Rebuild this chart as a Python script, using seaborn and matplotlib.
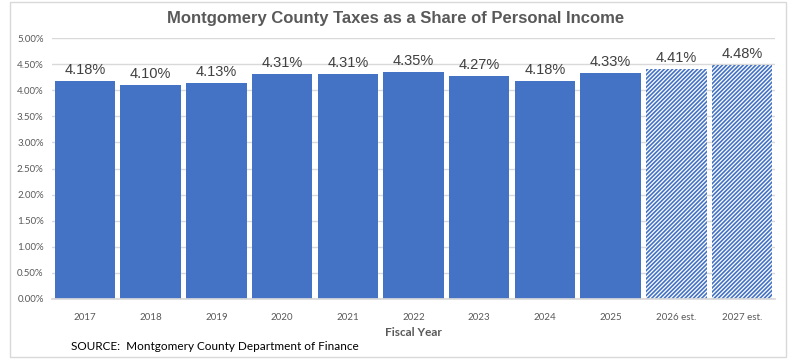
"""Montgomery County taxes as a share of personal income."""

import matplotlib

matplotlib.use("Agg")

import matplotlib.pyplot as plt
import pandas as pd
import seaborn as sns
from matplotlib.patches import Rectangle
from matplotlib.ticker import FuncFormatter, MultipleLocator

YEARS = ["2017", "2018", "2019", "2020", "2021", "2022", "2023", "2024", "2025",
         "2026 est.", "2027 est."]
SHARE = [4.18, 4.10, 4.13, 4.31, 4.31, 4.35, 4.27, 4.18, 4.33, 4.41, 4.48]
ESTIMATE = [False] * 9 + [True, True]

BLUE = "#4472C4"
GRAY_TEXT = "#595959"


def main() -> None:
    sns.set_theme(style="white")
    plt.rcParams["font.family"] = ["Liberation Sans", "DejaVu Sans"]
    plt.rcParams["hatch.linewidth"] = 1.2

    df = pd.DataFrame({"year": YEARS, "share": SHARE})

    fig = plt.figure(figsize=(7.92, 3.62), dpi=100)
    ax = fig.add_axes([52 / 792, 63 / 362, 723 / 792, 261 / 362])

    sns.barplot(data=df, x="year", y="share", color=BLUE, saturation=1,
                width=0.92, ax=ax)

    for patch, est in zip(ax.patches, ESTIMATE):
        patch.set_linewidth(0)
        if est:
            patch.set_facecolor("white")
            patch.set_edgecolor(BLUE)
            patch.set_hatch("////////")

    for i, v in enumerate(SHARE):
        ax.text(i, v + 0.08, f"{v:.2f}%", ha="center", va="bottom",
                fontsize=10.5, color="#404040")

    ax.set_ylim(0, 5.0)
    ax.set_xlim(-0.5, len(YEARS) - 0.5)
    ax.yaxis.set_major_locator(MultipleLocator(0.5))
    ax.yaxis.set_major_formatter(FuncFormatter(lambda v, _: f"{v:.2f}%"))
    ax.grid(axis="y", color="#D9D9D9", linewidth=1)
    ax.set_axisbelow(True)
    for side in ["top", "right", "left"]:
        ax.spines[side].set_visible(False)
    ax.spines["bottom"].set_color("#D9D9D9")

    ax.tick_params(axis="both", length=0, labelsize=7, colors=GRAY_TEXT, pad=6)
    for lab in ax.get_xticklabels() + ax.get_yticklabels():
        lab.set_fontfamily(["Lato", "DejaVu Sans"])
    ax.tick_params(axis="x", pad=10)

    ax.set_xlabel("Fiscal Year", fontsize=8.5, fontweight="bold", color=GRAY_TEXT,
                  labelpad=4, fontfamily=["Lato", "DejaVu Sans"])
    ax.set_ylabel("")

    fig.suptitle("Montgomery County Taxes as a Share of Personal Income",
                 y=1 - 18 / 362, va="center", fontsize=12, fontweight="bold",
                 color=GRAY_TEXT)
    fig.text(71 / 792, 1 - 347 / 362, "SOURCE:  Montgomery County Department of Finance",
             ha="left", va="center", fontsize=8.5, color="black",
             fontfamily=["Lato", "DejaVu Sans"])

    fig.patches.append(Rectangle((10 / 792, 1 - 357 / 362), 776 / 792, 355 / 362,
                                 transform=fig.transFigure, fill=False,
                                 edgecolor="#D9D9D9", linewidth=1))

    fig.savefig("out.png", dpi=100)
    plt.close(fig)


if __name__ == "__main__":
    main()
